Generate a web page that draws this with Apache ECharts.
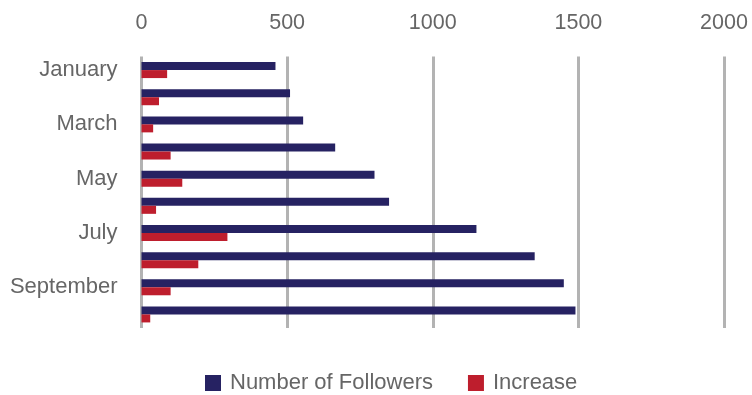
<!DOCTYPE html>
<html>
<head>
<meta charset="utf-8">
<script src="https://cdn.jsdelivr.net/npm/echarts@6/dist/echarts.min.js"></script>
<style>html,body{margin:0;padding:0;background:#fff;}#c{width:752px;height:395px;}</style>
</head>
<body>
<div id="c"></div>
<script>
var months = ['January','February','March','April','May','June','July','August','September','October'];
var followers = [460, 510, 555, 665, 800, 850, 1150, 1350, 1450, 1490];
var increase = [88, 60, 40, 100, 140, 50, 295, 195, 100, 30];
var seriesNames = ['Number of Followers', 'Increase'];

var chart = echarts.init(document.getElementById('c'));
var font = '"Liberation Sans", Arial, Helvetica, sans-serif';
chart.setOption({
  animation: false,
  color: ['#262262', '#be1e2d'],
  grid: { left: 141.5, right: 28, top: 56.5, bottom: 67 },
  legend: {
    data: seriesNames,
    left: 200, top: 367,
    icon: 'rect', itemWidth: 16, itemHeight: 16, itemGap: 35,
    textStyle: { fontSize: 22, color: '#666666', fontFamily: font, padding: [0, 0, 0, 4] }
  },
  xAxis: {
    type: 'value', position: 'top', min: 0, max: 2000, interval: 500,
    axisLine: { show: false }, axisTick: { show: false },
    axisLabel: { fontSize: 21.5, color: '#666666', fontFamily: font, margin: 22,
      formatter: function (v) { return String(v); } },
    splitLine: { show: true, lineStyle: { color: '#b3b3b3', width: 3 } }
  },
  yAxis: {
    type: 'category', inverse: true, data: months,
    axisLine: { show: false }, axisTick: { show: false },
    axisLabel: { interval: 1, fontSize: 22, color: '#666666', fontFamily: font, margin: 24 }
  },
  series: [
    { name: seriesNames[0], type: 'bar', data: followers, barWidth: 8, barGap: '0%' },
    { name: seriesNames[1], type: 'bar', data: increase, barWidth: 8, barGap: '0%' }
  ]
});
</script>
</body>
</html>
